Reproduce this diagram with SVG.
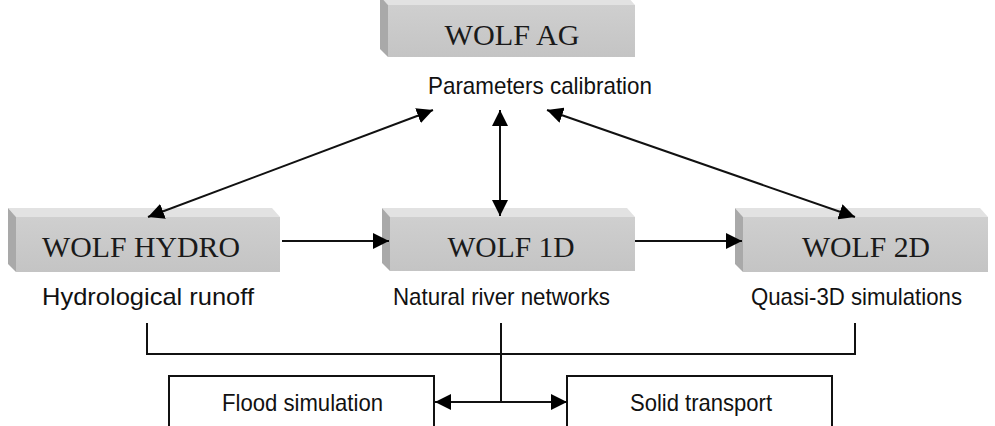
<svg xmlns="http://www.w3.org/2000/svg" width="995" height="426" viewBox="0 0 995 426">
<style>
.side{fill:#a9a9a9}
.top{fill:#e2e2e2}
.front{fill:url(#g)}
.bt{font-family:"Liberation Serif","Times New Roman",serif;font-size:30px;fill:#1a1a1a;text-anchor:middle}
.lb{font-family:"Liberation Sans",Arial,sans-serif;font-size:24px;fill:#111}
.ln{stroke:#111;stroke-width:2;fill:none}
.box{fill:#fff;stroke:#111;stroke-width:2}
</style>
<defs>
<linearGradient id="g" x1="0" y1="0" x2="0" y2="1">
<stop offset="0" stop-color="#cfcfcf"/>
<stop offset="1" stop-color="#c4c4c4"/>
</linearGradient>
<marker id="ah" viewBox="0 0 16 16" refX="16" refY="8" markerWidth="16" markerHeight="16" markerUnits="userSpaceOnUse" orient="auto-start-reverse">
<path d="M0,0 L16,8 L0,16 z" fill="#000"/>
</marker>
</defs>

<g id="wolf-ag">
<polygon class="top" points="380,-4 627,-4 635,5 388,5"/>
<polygon class="side" points="380,-4 388,5 388,57 380,49"/>
<rect class="front" x="388" y="5" width="247" height="52"/>
<text class="bt" x="512" y="45" textLength="135" lengthAdjust="spacingAndGlyphs">WOLF AG</text>
<text class="lb" x="428" y="94" textLength="224" lengthAdjust="spacingAndGlyphs">Parameters calibration</text>
</g>

<g id="wolf-hydro">
<polygon class="top" points="8,208 272,208 280,217 16,217"/>
<polygon class="side" points="8,208 16,217 16,272 8,264"/>
<rect class="front" x="16" y="217" width="264" height="55"/>
<text class="bt" x="141" y="257" textLength="198" lengthAdjust="spacingAndGlyphs">WOLF HYDRO</text>
<text class="lb" x="42" y="305" textLength="212" lengthAdjust="spacingAndGlyphs">Hydrological runoff</text>
</g>

<g id="wolf-1d">
<polygon class="top" points="382,208 627,208 635,217 390,217"/>
<polygon class="side" points="382,208 390,217 390,271 382,263"/>
<rect class="front" x="390" y="217" width="245" height="54"/>
<text class="bt" x="511" y="257" textLength="127" lengthAdjust="spacingAndGlyphs">WOLF 1D</text>
<text class="lb" x="393" y="305" textLength="217" lengthAdjust="spacingAndGlyphs">Natural river networks</text>
</g>

<g id="wolf-2d">
<polygon class="top" points="735,208 980,208 988,217 743,217"/>
<polygon class="side" points="735,208 743,217 743,272 735,264"/>
<rect class="front" x="743" y="217" width="245" height="55"/>
<text class="bt" x="866" y="257" textLength="128" lengthAdjust="spacingAndGlyphs">WOLF 2D</text>
<text class="lb" x="751" y="305" textLength="211" lengthAdjust="spacingAndGlyphs">Quasi-3D simulations</text>
</g>

<g id="flood">
<rect class="box" x="169" y="376" width="265" height="60"/>
<text class="lb" x="222" y="411" textLength="161" lengthAdjust="spacingAndGlyphs">Flood simulation</text>
</g>

<g id="solid">
<rect class="box" x="567" y="376" width="265" height="60"/>
<text class="lb" x="630" y="411" textLength="142" lengthAdjust="spacingAndGlyphs">Solid transport</text>
</g>

<g id="connectors">
<line class="ln" x1="433" y1="110" x2="148" y2="217" marker-start="url(#ah)" marker-end="url(#ah)"/>
<line class="ln" x1="500" y1="110" x2="500" y2="216" marker-start="url(#ah)" marker-end="url(#ah)"/>
<line class="ln" x1="547" y1="110" x2="855" y2="217" marker-start="url(#ah)" marker-end="url(#ah)"/>
<line class="ln" x1="282" y1="241" x2="389" y2="241" marker-end="url(#ah)"/>
<line class="ln" x1="635" y1="241" x2="742" y2="241" marker-end="url(#ah)"/>
<polyline class="ln" points="147,323 147,354 855,354 855,323"/>
<line class="ln" x1="501" y1="323" x2="501" y2="402"/>
<line class="ln" x1="435" y1="402" x2="567" y2="402" marker-start="url(#ah)" marker-end="url(#ah)"/>
</g>
</svg>
